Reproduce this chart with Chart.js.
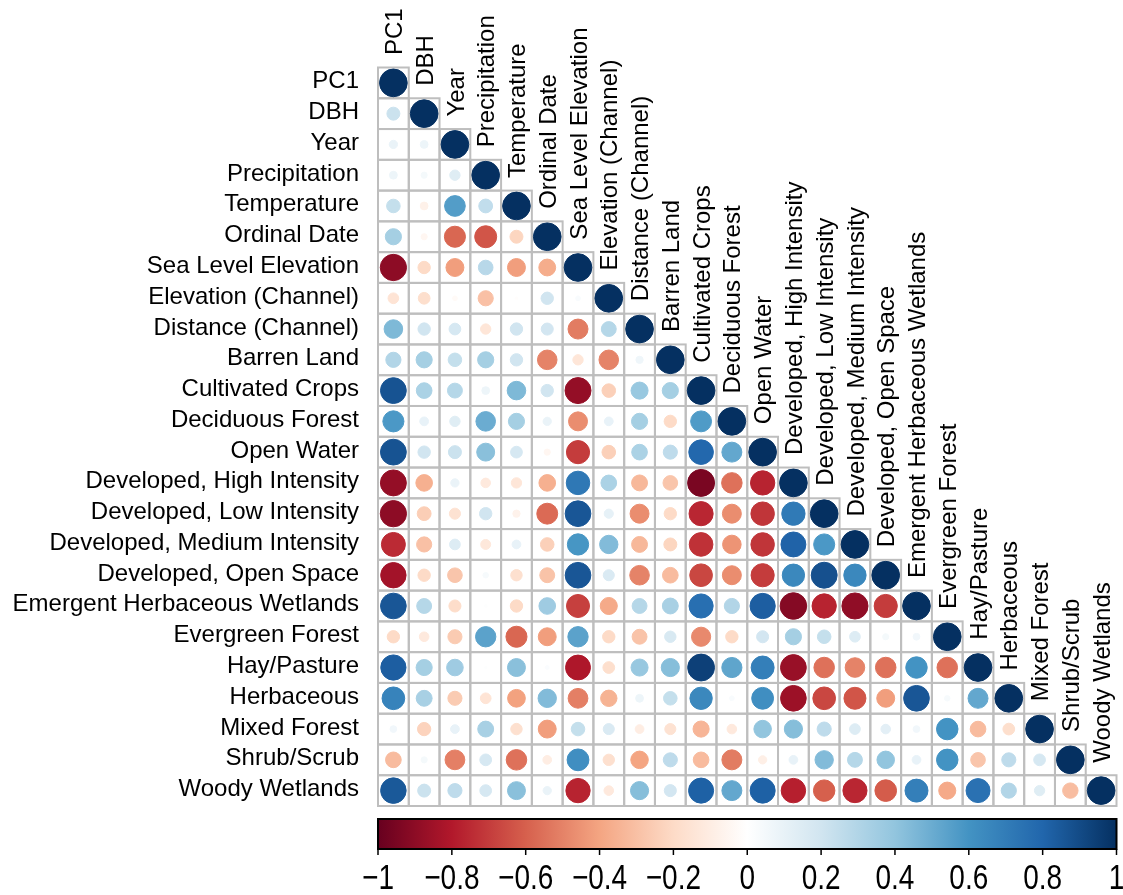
<!DOCTYPE html>
<html>
<head>
<meta charset="utf-8">
<script src="https://cdn.jsdelivr.net/npm/chart.js@4/dist/chart.umd.min.js"></script>
<style>
  html, body { margin: 0; padding: 0; background: #ffffff; }
  #c { display: block; }
</style>
</head>
<body>
<canvas id="c" width="1123" height="895" style="width:1123px;height:895px"></canvas>
<script>
// ---------------- DATA ----------------
const variables = ['PC1','DBH','Year','Precipitation','Temperature','Ordinal Date',
  'Sea Level Elevation','Elevation (Channel)','Distance (Channel)','Barren Land',
  'Cultivated Crops','Deciduous Forest','Open Water','Developed, High Intensity',
  'Developed, Low Intensity','Developed, Medium Intensity','Developed, Open Space',
  'Emergent Herbaceous Wetlands','Evergreen Forest','Hay/Pasture','Herbaceous',
  'Mixed Forest','Shrub/Scrub','Woody Wetlands'];

// lower-triangle correlation rows (column 0 .. diagonal)
const rowPC1 = [1];
const rowDBH = [0.22, 1];
const rowYear = [0.09, 0.08, 1];
const rowPrecipitation = [0.08, 0.05, 0.14, 1];
const rowTemperature = [0.24, -0.08, 0.56, 0.25, 1];
const rowOrdinalDate = [0.34, -0.05, -0.58, -0.63, -0.22, 1];
const rowSeaLevel = [-0.9, -0.2, -0.42, 0.28, -0.42, -0.37, 1];
const rowElevChannel = [-0.15, -0.18, -0.03, -0.3, -0.01, 0.2, 0.03, 1];
const rowDistChannel = [0.45, 0.2, 0.18, -0.14, 0.2, 0.19, -0.52, 0.29, 1];
const rowBarren = [0.3, 0.34, 0.24, 0.34, 0.2, -0.5, -0.14, -0.5, 0.07, 1];
const rowCultivated = [0.87, 0.32, 0.29, 0.08, 0.45, 0.2, -0.88, -0.24, 0.38, 0.34, 1];
const rowDeciduous = [0.58, 0.1, 0.14, 0.5, 0.34, 0.09, -0.47, 0.1, 0.34, -0.2, 0.57, 1];
const rowOpenWater = [0.87, 0.2, 0.22, 0.42, 0.18, -0.05, -0.7, -0.24, 0.32, 0.26, 0.79, 0.52, 1];
const rowDevHigh = [-0.88, -0.36, 0.09, -0.12, -0.14, -0.36, 0.72, 0.32, -0.33, -0.28, -0.95, -0.55, -0.77, 1];
const rowDevLow = [-0.9, -0.25, -0.16, 0.2, -0.07, -0.57, 0.86, 0.11, -0.47, -0.2, -0.76, -0.47, -0.72, 0.71, 1];
const rowDevMedium = [-0.75, -0.3, 0.15, -0.13, 0.1, -0.24, 0.59, 0.44, -0.33, -0.22, -0.73, -0.45, -0.72, 0.81, 0.58, 1];
const rowDevOpen = [-0.84, -0.2, -0.28, 0.04, -0.17, -0.29, 0.86, 0.16, -0.5, -0.32, -0.67, -0.47, -0.7, 0.65, 0.88, 0.65, 1];
const rowEmergentWetlands = [0.86, 0.29, -0.19, 0.01, -0.2, 0.36, -0.69, -0.38, 0.29, 0.33, 0.76, 0.3, 0.83, -0.92, -0.77, -0.89, -0.7, 1];
const rowEvergreen = [-0.2, -0.12, -0.26, 0.54, -0.58, -0.42, 0.54, -0.2, -0.29, 0.17, -0.48, -0.2, 0.19, 0.34, 0.24, 0.15, 0.05, 0.06, 1];
const rowHayPasture = [0.83, 0.34, 0.36, 0.01, 0.42, 0.02, -0.81, -0.18, 0.38, 0.43, 0.94, 0.53, 0.69, -0.87, -0.55, -0.5, -0.55, 0.6, -0.55, 1];
const rowHerbaceous = [0.67, 0.33, -0.26, -0.15, -0.41, 0.44, -0.51, -0.35, 0.08, 0.24, 0.65, 0.03, 0.62, -0.86, -0.67, -0.63, -0.42, 0.86, 0.04, 0.52, 1];
const rowMixedForest = [0.06, -0.23, 0.1, 0.33, -0.17, -0.42, 0.24, 0.16, -0.1, -0.16, -0.34, -0.12, 0.4, 0.43, 0.26, 0.15, 0.12, 0.06, 0.6, -0.32, -0.18, 1];
const rowShrubScrub = [-0.32, 0.05, -0.51, 0.18, -0.55, -0.1, 0.62, -0.17, -0.4, 0.26, -0.32, -0.52, -0.09, 0.1, 0.44, 0.29, 0.4, 0.1, 0.6, -0.28, 0.26, 0.18, 1];
const rowWoodyWetlands = [0.85, 0.22, 0.26, 0.18, 0.42, 0.09, -0.77, -0.12, 0.43, 0.19, 0.82, 0.52, 0.82, -0.78, -0.6, -0.76, -0.61, 0.69, -0.38, 0.75, 0.3, 0.14, -0.31, 1];

const colorbarTicks = [-1, -0.8, -0.6, -0.4, -0.2, 0, 0.2, 0.4, 0.6, 0.8, 1];
const paletteRdBu = ['#67001F','#B2182B','#D6604D','#F4A582','#FDDBC7','#FFFFFF',
  '#D1E5F0','#92C5DE','#4393C3','#2166AC','#053061'];

// ---------------- BUILD ----------------
const corrRows = [rowPC1,rowDBH,rowYear,rowPrecipitation,rowTemperature,rowOrdinalDate,
  rowSeaLevel,rowElevChannel,rowDistChannel,rowBarren,rowCultivated,rowDeciduous,
  rowOpenWater,rowDevHigh,rowDevLow,rowDevMedium,rowDevOpen,rowEmergentWetlands,
  rowEvergreen,rowHayPasture,rowHerbaceous,rowMixedForest,rowShrubScrub,rowWoodyWetlands];

const points = [];
corrRows.forEach((row, r) => row.forEach((v, c) => points.push({x: c, y: r, v: v})));

function hexToRgb(h) {
  return [parseInt(h.slice(1,3),16), parseInt(h.slice(3,5),16), parseInt(h.slice(5,7),16)];
}
const palRgb = paletteRdBu.map(hexToRgb);
function corrColor(v) {
  const t = Math.max(0, Math.min(1, (v + 1) / 2)) * (palRgb.length - 1);
  const i = Math.min(palRgb.length - 2, Math.floor(t));
  const f = t - i;
  const a = palRgb[i], b = palRgb[i + 1];
  const c = a.map((x, k) => Math.round(x + (b[k] - x) * f));
  return `rgb(${c[0]},${c[1]},${c[2]})`;
}

const FONT = '"Liberation Sans", Arial, Helvetica, sans-serif';

function cellSize(chart) {
  const xs = chart.scales.x;
  return Math.abs(xs.getPixelForValue(1) - xs.getPixelForValue(0));
}
function circleRadius(ctx) {
  const p = ctx.raw; if (!p) return 0;
  return 0.45 * cellSize(ctx.chart) * Math.sqrt(Math.abs(p.v));
}
function circleColor(ctx) {
  return ctx.raw ? corrColor(ctx.raw.v) : '#fff';
}

const corrDecor = {
  id: 'corrDecor',
  beforeDatasetsDraw(chart) {
    const ctx = chart.ctx, xs = chart.scales.x, ys = chart.scales.y;
    ctx.save();
    ctx.strokeStyle = '#BEBEBE';
    ctx.lineWidth = 2;
    corrRows.forEach((row, r) => row.forEach((v, c) => {
      const x0 = xs.getPixelForValue(c - 0.5), x1 = xs.getPixelForValue(c + 0.5);
      const y0 = ys.getPixelForValue(r - 0.5), y1 = ys.getPixelForValue(r + 0.5);
      ctx.strokeRect(x0, Math.min(y0, y1), x1 - x0, Math.abs(y1 - y0));
    }));
    ctx.restore();
  },
  afterDraw(chart) {
    const ctx = chart.ctx, xs = chart.scales.x, ys = chart.scales.y;
    const area = chart.chartArea;
    ctx.save();
    ctx.fillStyle = '#000000';
    ctx.font = '24px ' + FONT;
    // row labels
    ctx.textAlign = 'right';
    ctx.textBaseline = 'alphabetic';
    variables.forEach((lab, r) => {
      ctx.fillText(lab, area.left - 19, ys.getPixelForValue(r) + 5.5);
    });
    // column labels (rotated, above diagonal)
    ctx.textAlign = 'left';
    variables.forEach((lab, c) => {
      const cx = xs.getPixelForValue(c);
      const top = Math.min(ys.getPixelForValue(c - 0.5), ys.getPixelForValue(c + 0.5));
      ctx.save();
      ctx.translate(cx + 8.6, top - 12.5);
      ctx.rotate(-Math.PI / 2);
      ctx.fillText(lab, 0, 0);
      ctx.restore();
    });
    // colour bar
    const bl = area.left, br = area.right;
    const bt = area.bottom + 13, bb = area.bottom + 43;
    const grad = ctx.createLinearGradient(bl, 0, br, 0);
    paletteRdBu.forEach((col, i) => grad.addColorStop(i / (paletteRdBu.length - 1), col));
    ctx.fillStyle = grad;
    ctx.fillRect(bl, bt, br - bl, bb - bt);
    ctx.strokeStyle = '#000000';
    ctx.lineWidth = 2;
    ctx.strokeRect(bl, bt, br - bl, bb - bt);
    ctx.lineWidth = 1.5;
    ctx.fillStyle = '#000000';
    ctx.font = '35px ' + FONT;
    ctx.textAlign = 'center';
    ctx.textBaseline = 'alphabetic';
    const narrow = 0.8;
    colorbarTicks.forEach(t => {
      const x = bl + (t + 1) / 2 * (br - bl);
      ctx.beginPath();
      ctx.moveTo(x, bb);
      ctx.lineTo(x, bb + 6);
      ctx.stroke();
      const lab = (t === 0) ? '0' : (t < 0 ? '\u2212' + String(Math.abs(t)) : String(t));
      ctx.save();
      ctx.translate(x, bb + 40);
      ctx.scale(narrow, 1);
      ctx.fillText(lab, 0, 0);
      ctx.restore();
    });
    ctx.restore();
  }
};

new Chart(document.getElementById('c'), {
  type: 'scatter',
  data: {
    datasets: [{
      label: 'correlation',
      data: points,
      pointRadius: circleRadius,
      pointHoverRadius: circleRadius,
      pointBackgroundColor: circleColor,
      pointBorderColor: circleColor,
      pointBorderWidth: 1
    }]
  },
  options: {
    responsive: false,
    devicePixelRatio: 1,
    animation: false,
    events: [],
    layout: { padding: { left: 378, top: 67.5, right: 6.5, bottom: 89 } },
    scales: {
      x: { type: 'linear', min: -0.5, max: 23.5, display: false },
      y: { type: 'linear', min: -0.5, max: 23.5, reverse: true, display: false }
    },
    plugins: { legend: { display: false }, tooltip: { enabled: false } }
  },
  plugins: [corrDecor]
});
</script>
</body>
</html>
